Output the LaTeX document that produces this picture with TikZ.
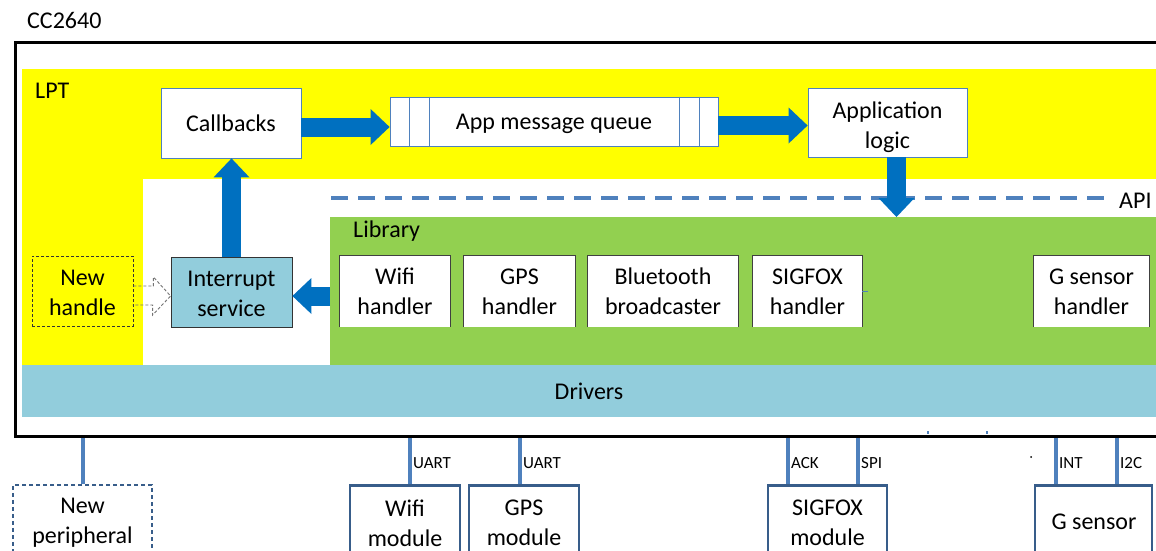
\documentclass[tikz,border=0pt]{standalone}
\usepackage{fontspec}
\setmainfont{Carlito}
\usetikzlibrary{arrows.meta,calc}
\definecolor{lptyellow}{HTML}{FFFF00}
\definecolor{libgreen}{HTML}{92D050}
\definecolor{drvblue}{HTML}{92CDDC}
\definecolor{arrblue}{HTML}{0070C0}
\definecolor{linkblue}{HTML}{4F81BD}
\definecolor{modborder}{HTML}{385D8A}
\begin{document}
\begin{tikzpicture}[x=1pt,y=-1pt,
  every node/.style={font=\fontsize{24}{30}\selectfont, inner sep=0pt, align=center},
  smalllbl/.style={font=\fontsize{17}{20}\selectfont, anchor=west},
  whitebox/.style={fill=white, draw=linkblue, line width=0.8pt},
  handler/.style={fill=white, draw=none, minimum height=71pt},
  hborder/.style={draw=black!75, line width=0.9pt},
  blockarrow/.style={draw=arrblue, line width=19pt,
     -{Triangle[length=19pt,width=36pt,line width=0pt]}},
  link/.style={draw=linkblue, line width=4pt},
  modbox/.style={draw=modborder, line width=2.6pt},
  hollowarrow/.style={draw=black!55, line width=0.9pt, densely dashed}
]
\useasboundingbox (0,0) rectangle (1156,551);
\clip (0,0) rectangle (1156,551);

% regions
\fill[lptyellow] (22,69) rectangle (1200,365);
\fill[white] (143,179) rectangle (1200,365);
\node[fill=libgreen, minimum width=870pt, minimum height=148pt, anchor=north west] (libarea) at (330,217) {};
\node[fill=drvblue, minimum width=1180pt, minimum height=52pt, anchor=north west] (drivers) at (22,365) {};
\node at (589,391) (drvtext) {Drivers};

% chip frame
\node[draw=black, line width=3pt, minimum width=1186.5pt, minimum height=393.5pt, anchor=north west] (chip) at (13.5,41.5) {};

% labels
\node[anchor=base west] (cclbl) at (27,29) {CC2640};
\node[anchor=base west] (lptlbl) at (35,99) {LPT};
\node[anchor=base west] (liblbl) at (353,237) {Library};
\node[anchor=base west] (apilbl) at (1119,208) {API};

% API dashed line
\draw[draw=linkblue, line width=4.5pt, dash pattern=on 17pt off 10pt] (libarea.north west) ++(1,-19) coordinate (apistart) -- (1105,198) coordinate (apiend);

% LPT boxes
\node[whitebox, minimum width=140pt, minimum height=70pt] (callbacks) at (231,123) {Callbacks};
\node[whitebox, minimum width=328pt, minimum height=49pt] (queue) at (554,121.5) {};
\node (queuet) at (554,123.5) {App message queue};
\foreach \dx in {20,40} \draw[linkblue, line width=0.8pt] ($(queue.north west)+(\dx,0)$) -- ($(queue.south west)+(\dx,0)$);
\foreach \dx in {-39,-19} \draw[linkblue, line width=0.8pt] ($(queue.north east)+(\dx,0)$) -- ($(queue.south east)+(\dx,0)$);
\node[whitebox, minimum width=159pt, minimum height=69pt] (applogic) at (887.5,122.5) {};
\node (applogict) at (887.5,127.5) {Application\\logic};

% interrupt and new handle
\node[fill=drvblue, draw=black!80, line width=0.8pt, minimum width=121pt, minimum height=70pt] (intr) at (231.5,292) {};
\node (intrt) at (231.5,293.5) {Interrupt\\service};
\node[draw=black!80, line width=0.8pt, densely dashed, minimum width=101pt, minimum height=70pt] (newh) at (82.5,291) {};
\node (newht) at (82.5,292.5) {New\\handle};

% handlers
\node[handler, minimum width=110pt] (wifih) at (395,291.5) {Wifi\\handler};
\node[handler, minimum width=111pt] (gpsh) at (519.5,291.5) {GPS\\handler};
\node[handler, minimum width=150pt] (bth) at (663,291.5) {Bluetooth\\broadcaster};
\node[handler, minimum width=109pt] (sigh) at (807.5,291.5) {SIGFOX\\handler};
\node[handler, minimum width=115pt] (gsh) at (1091.5,291.5) {G sensor\\handler};
\foreach \n in {wifih,gpsh,bth,sigh,gsh}
  \draw[hborder] (\n.south west) -- (\n.north west) -- (\n.north east) -- (\n.south east);
\draw[linkblue, line width=1.5pt] (sigh.east) -- ++(6,0) coordinate (sigstub);

% block arrows
\draw[blockarrow] ([yshift=-4pt]callbacks.east) -- ([yshift=-4pt]callbacks.east -| queue.west);
\draw[blockarrow] ([yshift=-4pt]queue.east) -- ([yshift=-4pt]queue.east -| applogic.west);
\draw[blockarrow] ([xshift=9pt]applogic.south) -- ([xshift=9pt]applogic.south |- libarea.north);
\draw[blockarrow] (intr.north) -- (intr.north |- callbacks.south);
\draw[blockarrow] ([yshift=-4pt]libarea.west |- intr.east) -- ([yshift=-4pt]intr.east);

% hollow dashed arrow
\draw[hollowarrow] ($(newh.east)+(0,-5)$) -- ++(20,0) -- ++(0,-9) -- ($(intr.west)+(0,4)$) -- ++(-18,19) -- ++(0,-10) -- ++(-20,0);

% peripheral modules
\node[draw=modborder, line width=1.5pt, dash pattern=on 4pt off 3pt, minimum width=139pt, minimum height=120pt, anchor=north] (newp) at (82.5,484) {};
\node (newpt) at (82.5,523) {New\\peripheral};
\node[modbox, minimum width=110pt, minimum height=120pt, anchor=north] (wifim) at (405,484) {};
\node (wifimt) at (405,523) {Wifi\\module};
\node[modbox, minimum width=110pt, minimum height=120pt, anchor=north] (gpsm) at (524,484) {};
\node (gpsmt) at (524,523) {GPS\\module};
\node[modbox, minimum width=119pt, minimum height=120pt, anchor=north] (sigm) at (827.5,484) {};
\node (sigmt) at (827.5,523) {SIGFOX\\module};
\node[modbox, minimum width=117pt, minimum height=120pt, anchor=north] (gsm) at (1093.5,484) {};
\node (gsmt) at (1094,522) {G sensor};

% links
\draw[link] (chip.south -| newp.north) -- (newp.north);
\draw[link] (chip.south -| 410,0) -- (wifim.north -| 410,0);
\draw[link] (chip.south -| 520,0) -- (gpsm.north -| 520,0);
\draw[link] (chip.south -| 788,0) -- (sigm.north -| 788,0);
\draw[link] (chip.south -| 858,0) -- (sigm.north -| 858,0);
\draw[link] (chip.south -| 1056,0) -- (gsm.north -| 1056,0);
\draw[link] (chip.south -| 1117,0) -- (gsm.north -| 1117,0);
\node[smalllbl] (u1) at (413,463) {UART};
\node[smalllbl] (u2) at (523,463) {UART};
\node[smalllbl] (ack) at (791,463) {ACK};
\node[smalllbl] (spi) at (861,463) {SPI};
\node[smalllbl] (int) at (1059,463) {INT};
\node[smalllbl] (i2c) at (1120,463) {I2C};

% small marks
\draw[linkblue, line width=2pt] (928,431) -- (928,434);
\draw[linkblue, line width=2pt] (987,431) -- (987,434);
\fill[black] (1031,457) circle (1pt);
\end{tikzpicture}
\end{document}
